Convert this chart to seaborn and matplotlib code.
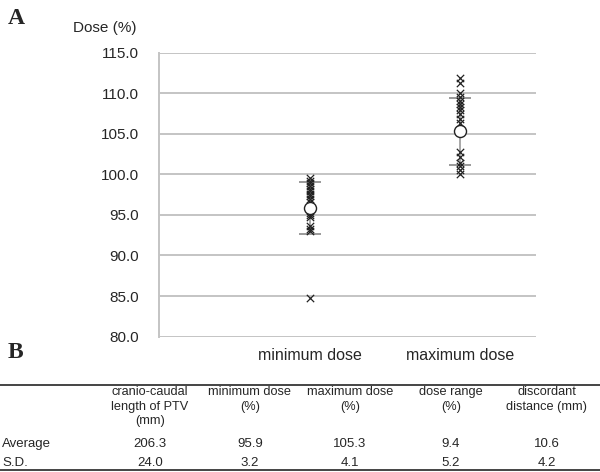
import numpy as np
import pandas as pd
import matplotlib
matplotlib.use("Agg")
import matplotlib.pyplot as plt
import seaborn as sns

# ---------------- data ----------------
categories = ["minimum dose", "maximum dose"]
min_dose = [99.5, 99.2, 98.9, 98.6, 98.2, 97.9, 97.6, 97.3, 97.0, 96.6,
            95.3, 95.0, 94.7, 93.6, 93.3, 93.0, 84.8]
max_dose = [111.9, 111.3, 110.0, 109.5, 109.1, 108.7, 108.3, 107.9, 107.4,
            106.9, 106.4, 102.8, 102.2, 101.4, 101.0, 100.5, 100.1]
mean_vals = [95.9, 105.3]
sd_vals = [3.2, 4.1]
y_ticks = [80.0, 85.0, 90.0, 95.0, 100.0, 105.0, 110.0, 115.0]

# table (panel B)
col_headers = ["cranio-caudal\nlength of PTV\n(mm)", "minimum dose\n(%)",
               "maximum dose\n(%)", "dose range\n(%)", "discordant\ndistance (mm)"]
row_labels = ["Average", "S.D."]
avg_row = ["206.3", "95.9", "105.3", "9.4", "10.6"]
sd_row = ["24.0", "3.2", "4.1", "5.2", "4.2"]

df = pd.DataFrame({
    "x": [1] * len(min_dose) + [2] * len(max_dose),
    "dose": min_dose + max_dose,
})

sns.set_style("white")
plt.rcParams["font.family"] = ["Liberation Sans", "DejaVu Sans"]

fig = plt.figure(figsize=(6, 4.72), dpi=100)
ax = fig.add_axes([0.265, 0.287, 0.628, 0.601])

grid_c = "#c4c4c4"
for v in y_ticks:
    ax.axhline(v, color=grid_c, lw=1.4, zorder=0)

sns.scatterplot(data=df, x="x", y="dose", marker="x", color="#222222",
                s=28, linewidth=0.9, ax=ax, zorder=3, legend=False)

ax.errorbar([1, 2], mean_vals, yerr=sd_vals, fmt="none", ecolor="#9a9a9a",
            elinewidth=1.2, capsize=8, capthick=1.4, zorder=2)
ax.scatter([1, 2], mean_vals, s=75, facecolor="white", edgecolor="#222222",
           linewidth=1.0, zorder=4)

ax.set_xlim(0, 2.5)
ax.set_ylim(80, 115)
ax.set_yticks(y_ticks)
ax.set_yticklabels([f"{v:.1f}" for v in y_ticks], fontsize=11)
ax.set_xticks([1, 2])
ax.set_xticklabels(categories, fontsize=11.5)
ax.tick_params(axis="x", length=0, pad=8)
ax.tick_params(axis="y", length=4, color=grid_c, width=1.2, pad=10.5)
ax.set_xlabel("")
ax.set_ylabel("")
for s in ["top", "right", "bottom"]:
    ax.spines[s].set_visible(False)
ax.spines["left"].set_color(grid_c)
ax.spines["left"].set_linewidth(1.4)

fig.text(105 / 600, 1 - 28 / 472, "Dose (%)", fontsize=11, ha="center", va="center")
fig.text(8 / 600, 1 - 18 / 472, "A", fontsize=17, fontweight="bold",
         family="Liberation Serif", ha="left", va="center")
fig.text(8 / 600, 1 - 352 / 472, "B", fontsize=17, fontweight="bold",
         family="Liberation Serif", ha="left", va="center")

# ---------------- table ----------------
col_x = [150, 250, 350, 451, 547]
fig.add_artist(plt.Line2D([0, 1], [1 - 385 / 472] * 2, color="#444444", lw=1.4))
fig.add_artist(plt.Line2D([0, 1], [1 - 470 / 472] * 2, color="#444444", lw=1.4))
for cx, h in zip(col_x, col_headers):
    fig.text(cx / 600, 1 - 386 / 472, h, fontsize=9.2, ha="center", va="top",
             linespacing=1.3)
for ry, lab, vals in [(444, row_labels[0], avg_row), (463, row_labels[1], sd_row)]:
    fig.text(2 / 600, 1 - ry / 472, lab, fontsize=9.5, ha="left", va="center")
    for cx, v in zip(col_x, vals):
        fig.text(cx / 600, 1 - ry / 472, v, fontsize=9.5, ha="center", va="center")

fig.savefig("out.png", dpi=100)
